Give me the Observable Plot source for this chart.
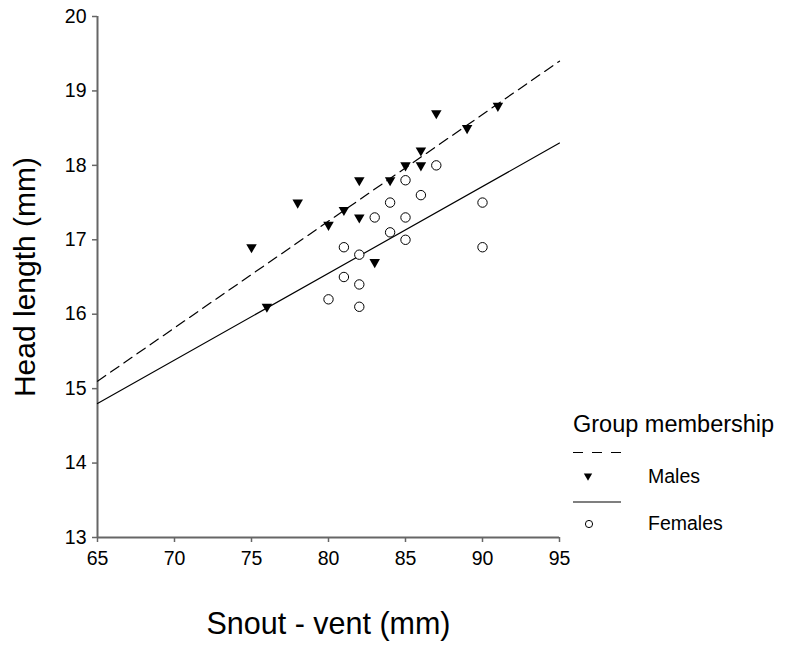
<!DOCTYPE html>
<html>
<head>
<meta charset="utf-8">
<script src="https://cdn.jsdelivr.net/npm/d3@7"></script>
<script src="https://cdn.jsdelivr.net/npm/@observablehq/plot@0.6"></script>
<style>
  html, body { margin: 0; padding: 0; background: #fff; }
  #chart svg { display: block; }
</style>
</head>
<body>
<div id="chart"></div>
<script>
// ---- data ----
const maleSnout = [75, 76, 78, 80, 81, 82, 82, 83, 84, 85, 86, 86, 87, 89, 91];
const maleHead  = [16.9, 16.1, 17.5, 17.2, 17.4, 17.8, 17.3, 16.7, 17.8, 18.0, 18.2, 18.0, 18.7, 18.5, 18.8];
const femaleSnout = [80, 81, 81, 82, 82, 82, 83, 84, 84, 85, 85, 85, 86, 87, 90, 90];
const femaleHead  = [16.2, 16.9, 16.5, 16.8, 16.4, 16.1, 17.3, 17.5, 17.1, 17.8, 17.3, 17.0, 17.6, 18.0, 17.5, 16.9];
const fitSnout = [65, 95];
const maleFit = [15.1, 19.4];
const femaleFit = [14.8, 18.3];
const xTicks = [65, 70, 75, 80, 85, 90, 95];
const yTicks = [13, 14, 15, 16, 17, 18, 19, 20];
const xTitle = "Snout - vent (mm)";
const yTitle = "Head length (mm)";
const legendTitle = "Group membership";
const groups = ["Males", "Females"];

const males = maleSnout.map((x, i) => ({x, y: maleHead[i]}));
const females = femaleSnout.map((x, i) => ({x, y: femaleHead[i]}));
const maleLine = fitSnout.map((x, i) => ({x, y: maleFit[i]}));
const femaleLine = fitSnout.map((x, i) => ({x, y: femaleFit[i]}));

const font = "'Liberation Sans', Arial, Helvetica, sans-serif";
const axisGray = "#666666";

const chart = Plot.plot({
  width: 789,
  height: 646,
  marginLeft: 97,
  marginRight: 230,
  marginTop: 16,
  marginBottom: 109,
  style: {fontFamily: font, fontSize: "20px", color: "black", background: "white"},
  x: {domain: [65, 95]},
  y: {domain: [13, 20]},
  marks: [
    Plot.axisX({ticks: xTicks, tickSize: 5, tickPadding: 9, stroke: axisGray, strokeWidth: 1.5, fill: "black", fontSize: 19.5, label: null, tickFormat: d => String(d)}),
    Plot.axisY({ticks: yTicks, tickSize: 5, tickPadding: 6, stroke: axisGray, strokeWidth: 1.5, fill: "black", fontSize: 19.5, label: null, tickFormat: d => String(d)}),
    Plot.ruleX([65], {stroke: axisGray, strokeWidth: 2}),
    Plot.ruleY([13], {stroke: axisGray, strokeWidth: 2}),
    Plot.line(maleLine, {x: "x", y: "y", stroke: "black", strokeWidth: 1.2, strokeDasharray: "10,6"}),
    Plot.line(femaleLine, {x: "x", y: "y", stroke: "black", strokeWidth: 1.2}),
    Plot.dot(males, {x: "x", y: "y", symbol: "triangle", rotate: 180, r: 3.9, fill: "black", stroke: "none"}),
    Plot.dot(females, {x: "x", y: "y", symbol: "circle", r: 4.7, fill: "white", stroke: "black", strokeWidth: 1}),
    Plot.text([xTitle], {frameAnchor: "bottom", dy: 87, lineAnchor: "middle", fontSize: 30.5, fill: "black"}),
    Plot.text([yTitle], {frameAnchor: "left", dx: -72, rotate: -90, textAnchor: "middle", lineAnchor: "middle", fontSize: 30, fill: "black"})
  ]
});

// ---- legend (outside plot frame) ----
const svg = d3.select(chart);
const lg = svg.append("g").attr("font-family", font).attr("fill", "black").attr("text-anchor", "start");
lg.append("text").attr("x", 573).attr("y", 432).attr("font-size", 23.5).text(legendTitle);
lg.append("line").attr("x1", 573).attr("x2", 621).attr("y1", 452.5).attr("y2", 452.5)
  .attr("stroke", "black").attr("stroke-width", 1.2).attr("stroke-dasharray", "10,9");
lg.append("path").attr("d", d3.symbol(d3.symbolTriangle, 30)()).attr("transform", "translate(588,476) rotate(180)").attr("fill", "black");
lg.append("text").attr("x", 648).attr("y", 483).attr("font-size", 19.5).text(groups[0]);
lg.append("line").attr("x1", 573).attr("x2", 621).attr("y1", 502).attr("y2", 502)
  .attr("stroke", "black").attr("stroke-width", 1.2);
lg.append("circle").attr("cx", 589).attr("cy", 524).attr("r", 3.6).attr("fill", "white").attr("stroke", "black").attr("stroke-width", 1);
lg.append("text").attr("x", 648).attr("y", 530).attr("font-size", 19.5).text(groups[1]);

document.getElementById("chart").appendChild(chart);
</script>
</body>
</html>
